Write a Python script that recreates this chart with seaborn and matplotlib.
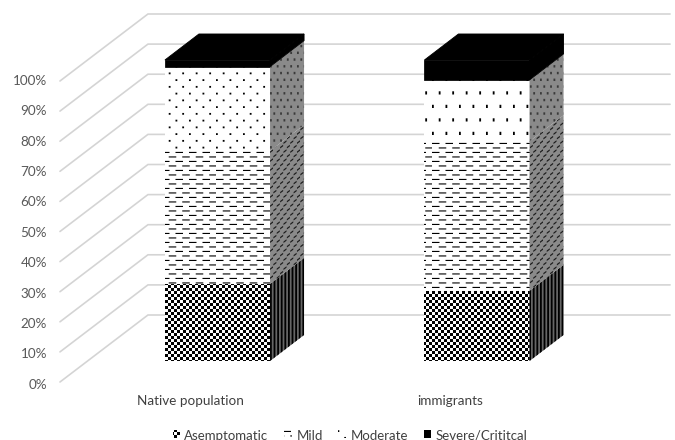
import matplotlib
matplotlib.use("Agg")
import matplotlib.pyplot as plt
import matplotlib.hatch as mhatch
from matplotlib.patches import Patch, Polygon
from matplotlib.path import Path
import numpy as np
import seaborn as sns

groups = ["Native population", "immigrants"]
series = ["Asemptomatic", "Mild", "Moderate", "Severe/Crititcal"]
asymptomatic = [25.6, 23.3]
mild = [44.2, 49.7]
moderate = [28.0, 20.4]
severe = [2.2, 6.6]
tick_labels = ["0%", "10%", "20%", "30%", "40%", "50%", "60%", "70%", "80%", "90%", "100%"]
tick_values = [0, 10, 20, 30, 40, 50, 60, 70, 80, 90, 100]

TILE = 108.0  # hatch tile size in pixels at this dpi


def rect_verts(x, y, w, h, shear=0.0):
    px = [x, x + w, x + w, x, x]
    py = [y, y + shear * w, y + h + shear * w, y + h, y]
    return np.column_stack([px, py]) / TILE


def grid_rects(px, py, w, h, stagger=True, shear=0.0):
    nx, ny = int(round(TILE / px)), int(round(TILE / py))
    out = []
    for j in range(ny):
        off = px / 2 if (stagger and j % 2) else 0.0
        for i in range(nx):
            out.append(rect_verts(i * px + off, j * py, w, h, shear))
    return out


class TilePattern:
    """Pixel-sized repeating fills, selected by the hatch character."""
    table = {}

    def __init__(self, hatch, density):
        self.rects = []
        if hatch is not None and hatch in self.table:
            self.rects = self.table[hatch]
        self.num_vertices = 5 * len(self.rects)

    def set_vertices_and_codes(self, vertices, codes):
        for k, r in enumerate(self.rects):
            vertices[5 * k:5 * k + 5] = r
            codes[5 * k:5 * k + 5] = [Path.MOVETO, Path.LINETO, Path.LINETO, Path.LINETO, Path.CLOSEPOLY]


CHECK = 6.0
checks = []
for j in range(36):
    for i in range(18):
        checks.append(rect_verts(i * CHECK + (j % 2) * CHECK / 2, j * CHECK / 2, CHECK / 2, CHECK / 2))

TilePattern.table = {
    "x": checks,
    ".": grid_rects(13.5, 6.75, 1.8, 1.8),
    "o": grid_rects(13.5, 13.5, 1.8, 3.2),
    "-": grid_rects(13.5, 108 / 24, 7.5, 1.1),
    "|": grid_rects(3.6, 108, 1.8, 108, stagger=False),
    "*": grid_rects(6.75, 4.5, 3.0, 1.5, shear=0.75),
    "+": grid_rects(6.75, 6.75, 1.8, 2.4),
}
mhatch._hatch_types[:] = [TilePattern]

sns.set_theme(style="white")
plt.rcParams["font.family"] = ["Lato", "DejaVu Sans"]
plt.rcParams["hatch.linewidth"] = 0.01

fig = plt.figure(figsize=(675 / 108, 441 / 108), dpi=108)
ax = fig.add_axes([0, 0, 1, 1])

# Stacked front faces
front_hatches = [("x", "x"), ("-", "-"), (".", "o"), (None, None)]
stack = [asymptomatic, mild, moderate, severe]
bottoms = np.zeros(2)
for vals, name in zip(stack, series):
    sns.barplot(x=groups, y=vals, bottom=bottoms.copy(), order=groups, color="white", saturation=1,
                width=0.405, linewidth=0, edgecolor="black", errorbar=None, ax=ax, zorder=2)
    bottoms += np.array(vals)

# Depth of the oblique projection, in axis units
per_px_x = 1 / 259.5
per_px_y = 1 / 3.01
bar_dx, bar_dy = 34 * per_px_x, 26 * per_px_y
side_styles = [
    ("#666666", "black", "|"),
    ("#8a8a8a", "#1c1c1c", "*"),
    ("#8a8a8a", "#3a3a3a", "+"),
    ("black", "black", None),
]
for idx, cont in enumerate(ax.containers):
    for g, bar in enumerate(cont):
        h = front_hatches[idx][g]
        if idx == 3:
            bar.set_facecolor("black")
            bar.set_edgecolor("black")
            bar.set_linewidth(0.5)
        elif h:
            bar.set_hatch(h)
        x1 = bar.get_x() + bar.get_width()
        y0, y1 = bar.get_y(), bar.get_y() + bar.get_height()
        face, ink, hatch = side_styles[idx]
        side = Polygon([(x1, y0), (x1 + bar_dx, y0 + bar_dy), (x1 + bar_dx, y1 + bar_dy), (x1, y1)],
                       closed=True, facecolor=face, edgecolor=ink, hatch=hatch,
                       linewidth=0.6 if idx == 3 else 0, zorder=2)
        ax.add_patch(side)
        if idx == 3:
            x0 = bar.get_x()
            top = Polygon([(x0, y1), (x0 + bar_dx, y1 + bar_dy), (x1 + bar_dx, y1 + bar_dy), (x1, y1)],
                          closed=True, facecolor="black", edgecolor="black", linewidth=0.6, zorder=2)
            ax.add_patch(top)

# Wall and floor gridlines running back from the value axis
x_left = -0.607
x_back = -0.268
x_right = 1.744
front_shift = -21 * per_px_y
back_shift = 46 * per_px_y
for v in tick_values:
    ax.plot([x_left, x_back, x_right], [v + front_shift, v + back_shift, v + back_shift],
            color="#d4d4d4", lw=1.1, zorder=1, solid_joinstyle="miter")

label_shift = front_shift - 0.6
for v, lab in zip(tick_values, tick_labels):
    ax.text(-0.657, v * 1.01 + label_shift, lab, ha="right", va="center", color="#595959", fontsize=9.0)

for c, lab in zip([-0.105, -0.105 + 1], groups):
    ax.text(c, -12.9, lab, ha="center", va="center", color="#404040", fontsize=9.0)

ax.set_xlim(-217.5 * per_px_x, (675 - 217.5) * per_px_x)
ax.set_ylim((362 - 441) * per_px_y, 362 * per_px_y)
ax.axis("off")

handles = [
    Patch(facecolor="white", edgecolor="black", hatch="x", linewidth=0, label=series[0]),
    Patch(facecolor="white", edgecolor="black", hatch="-", linewidth=0, label=series[1]),
    Patch(facecolor="white", edgecolor="black", hatch=".", linewidth=0, label=series[2]),
    Patch(facecolor="black", edgecolor="black", linewidth=0, label=series[3]),
]
ax.legend(handles=handles, ncol=4, loc="center", bbox_to_anchor=(350 / 675, 1 - 436 / 441), frameon=False,
          fontsize=8.8, labelcolor="#404040", handlelength=0.55, handleheight=0.55, handletextpad=0.35,
          columnspacing=1.2, borderpad=0, borderaxespad=0)

fig.savefig("out.png", dpi=108)
